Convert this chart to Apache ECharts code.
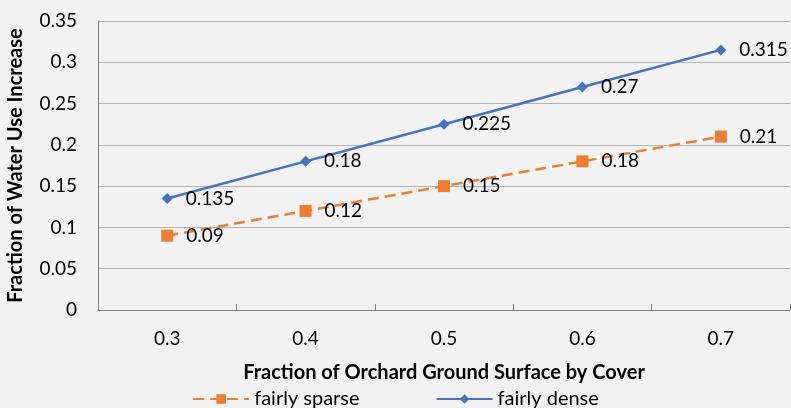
<!DOCTYPE html>
<html><head><meta charset="utf-8">
<script src="https://cdn.jsdelivr.net/npm/echarts@6/dist/echarts.min.js"></script>
<style>html,body{margin:0;padding:0;background:#f2f2f2;}#c{width:791px;height:408px;}</style>
</head><body><div id="c"></div>
<script>
const categories = ['0.3','0.4','0.5','0.6','0.7'];
const fairlySparse = [0.09, 0.12, 0.15, 0.18, 0.21];
const fairlyDense = [0.135, 0.18, 0.225, 0.27, 0.315];
const yTicks = [0, 0.05, 0.1, 0.15, 0.2, 0.25, 0.3, 0.35];

const FONT = 'Lato, "Open Sans", sans-serif';
const chart = echarts.init(document.getElementById('c'));
const labelCfg = {show:true, position:'right', distance:13, color:'#000', fontSize:19, fontFamily:FONT, formatter: p => String(p.value)};
chart.setOption({
  backgroundColor:'#f2f2f2',
  animation:false,
  grid:{left:98, right:1, top:21, bottom:98, containLabel:false, outerBoundsMode:'none'},
  legend:{
    left:'center', top:384, itemWidth:56, itemHeight:12, itemGap:76,
    textStyle:{fontSize:20, fontFamily:FONT, color:'#000'},
    data:['fairly sparse','fairly dense']
  },
  xAxis:{
    type:'category', data:categories, boundaryGap:true,
    name:'Fraction of Orchard Ground Surface by Cover', nameLocation:'middle', nameGap:53,
    nameTextStyle:{fontSize:20, fontWeight:'bold', fontFamily:FONT, color:'#000'},
    axisLine:{lineStyle:{color:'#808080', width:1}},
    axisTick:{show:true, inside:true, length:6, lineStyle:{color:'#808080'}},
    axisLabel:{fontSize:19, fontFamily:FONT, color:'#000', margin:19}
  },
  yAxis:{
    type:'value', min:0, max:0.35, interval:0.05,
    name:'Fraction of Water Use Increase', nameLocation:'middle', nameGap:72,
    nameTextStyle:{fontSize:20, fontWeight:'bold', fontFamily:FONT, color:'#000'},
    axisLine:{show:true, lineStyle:{color:'#808080', width:1}},
    axisTick:{show:false},
    axisLabel:{fontSize:19, fontFamily:FONT, color:'#000', margin:21,
      formatter: v => { const t = yTicks.find(x => Math.abs(x - v) < 1e-9); return t === undefined ? '' : String(t); }},
    splitLine:{lineStyle:{color:'#b3b3b3', width:1}}
  },
  series:[
    {name:'fairly sparse', type:'line', data:fairlySparse, symbol:'rect', symbolSize:12,
     itemStyle:{color:'#ED7D31'}, lineStyle:{color:'#ED7D31', width:2.5, type:[11,6]},
     label:labelCfg},
    {name:'fairly dense', type:'line', data:fairlyDense, symbol:'diamond', symbolSize:11,
     itemStyle:{color:'#4472C4'}, lineStyle:{color:'#4472C4', width:2.5},
     label:labelCfg}
  ]
});
</script></body></html>
